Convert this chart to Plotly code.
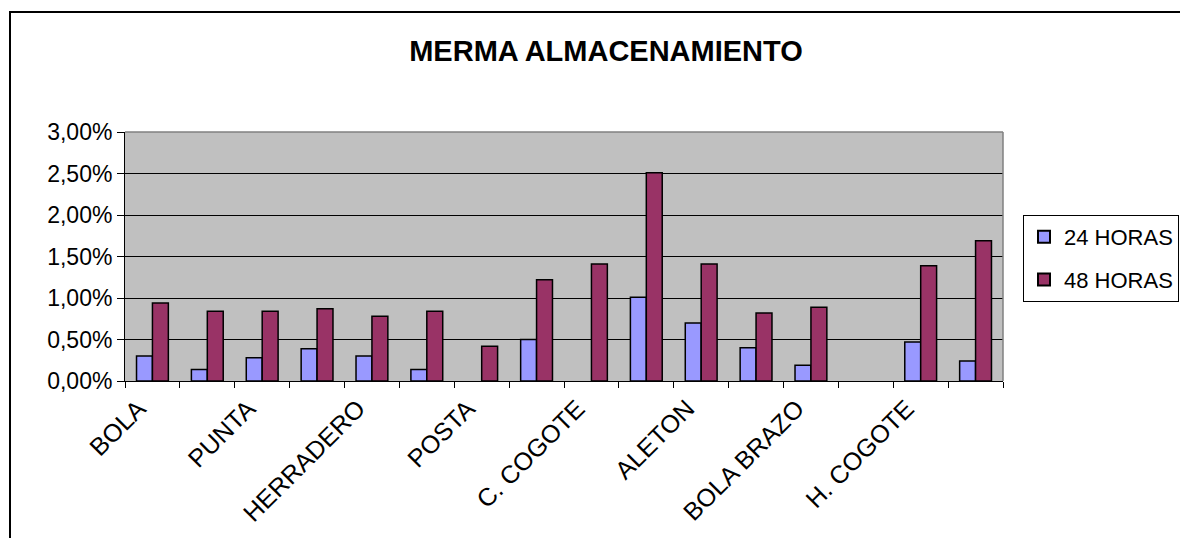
import plotly.graph_objects as go

# 16 cuts; only every other category name is shown on the axis
categories = ["BOLA", "", "PUNTA", "", "HERRADERO", "", "POSTA", "",
              "C. COGOTE", "", "ALETON", "", "BOLA BRAZO", "", "H. COGOTE", ""]
# None = empty cell (no bar drawn)
h24 = [0.0030, 0.0014, 0.0028, 0.0039, 0.0030, 0.0014, None, 0.0050,
       None, 0.0101, 0.0070, 0.0040, 0.0019, None, 0.0047, 0.0024]
h48 = [0.0094, 0.0084, 0.0084, 0.0087, 0.0078, 0.0084, 0.0042, 0.0122,
       0.0141, 0.0251, 0.0141, 0.0082, 0.0089, None, 0.0139, 0.0169]
series_names = ["24 HORAS", "48 HORAS"]
y_ticks = [0, 0.005, 0.01, 0.015, 0.02, 0.025, 0.03]

x = list(range(len(categories)))
label_idx = [i for i, c in enumerate(categories) if c]

FONT = "Liberation Sans, Arial, sans-serif"

fig = go.Figure()
fig.add_trace(go.Bar(x=x, y=h24, name=series_names[0], legendgroup="a",
                     marker=dict(color="#9999FF", line=dict(color="black", width=1.5))))
fig.add_trace(go.Bar(x=x, y=h48, name=series_names[1], legendgroup="b",
                     marker=dict(color="#993366", line=dict(color="black", width=1.5))))

L, R, T, B = 125, 177, 132, 157
W, H = 1180, 538
pw, ph = W - L - R, H - T - B

def px2paper_x(px):
    return (px - L) / pw

def px2paper_y(py):
    return (H - B - py) / ph

fig.update_layout(
    width=W, height=H,
    margin=dict(l=L, r=R, t=T, b=B, autoexpand=False),
    paper_bgcolor="white",
    plot_bgcolor="#C0C0C0",
    separators=",.",
    barmode="group",
    bargap=0.42,
    bargroupgap=0,
    font=dict(family=FONT, color="black", size=20),
    title=dict(text="<b>MERMA ALMACENAMIENTO</b>", x=px2paper_x(606), xref="paper",
               xanchor="center", y=1 - 51 / H, yanchor="middle",
               font=dict(family=FONT, size=29, color="black")),
    showlegend=True,
    legend=dict(x=px2paper_x(1023), xanchor="left", y=px2paper_y(215), yanchor="top",
                bgcolor="white", bordercolor="black", borderwidth=1,
                font=dict(family=FONT, size=22, color="black"),
                itemsizing="constant", tracegroupgap=11),
    xaxis=dict(
        range=[-0.5, len(categories) - 0.5],
        tickmode="array",
        tickvals=label_idx,
        ticktext=[categories[i] for i in label_idx],
        tickangle=-45,
        ticks="",
        ticklabelshift=-14,
        ticklabelstandoff=2,
        showgrid=False,
        zeroline=False,
        showline=True, linecolor="black", linewidth=1,
        tickfont=dict(family=FONT, size=25, color="black"),
        minor=dict(tickmode="array",
                   tickvals=[i - 0.5 for i in range(len(categories) + 1)],
                   ticks="outside", ticklen=6, tickcolor="black", tickwidth=1,
                   showgrid=False),
    ),
    yaxis=dict(
        range=[0, 0.03],
        tickmode="array",
        tickvals=y_ticks,
        tickformat=".2%",
        showgrid=True, gridcolor="black", gridwidth=1,
        zeroline=False,
        showline=True, linecolor="black", linewidth=1,
        ticks="outside", ticklen=7, tickcolor="black",
        tickfont=dict(family=FONT, size=23, color="black"),
    ),
    shapes=[
        # plot area top/right border (gray)
        dict(type="line", xref="paper", yref="paper", x0=0, x1=1, y0=1, y1=1,
             line=dict(color="#808080", width=1.5)),
        dict(type="line", xref="paper", yref="paper", x0=1, x1=1, y0=0, y1=1,
             line=dict(color="#808080", width=1.5)),
        # outer chart border (cropped at right/bottom)
        dict(type="rect", xref="paper", yref="paper",
             x0=px2paper_x(10), x1=px2paper_x(1300),
             y0=px2paper_y(700), y1=px2paper_y(12),
             line=dict(color="black", width=2), fillcolor="rgba(0,0,0,0)"),
    ],
)

fig.write_html("out.html")
